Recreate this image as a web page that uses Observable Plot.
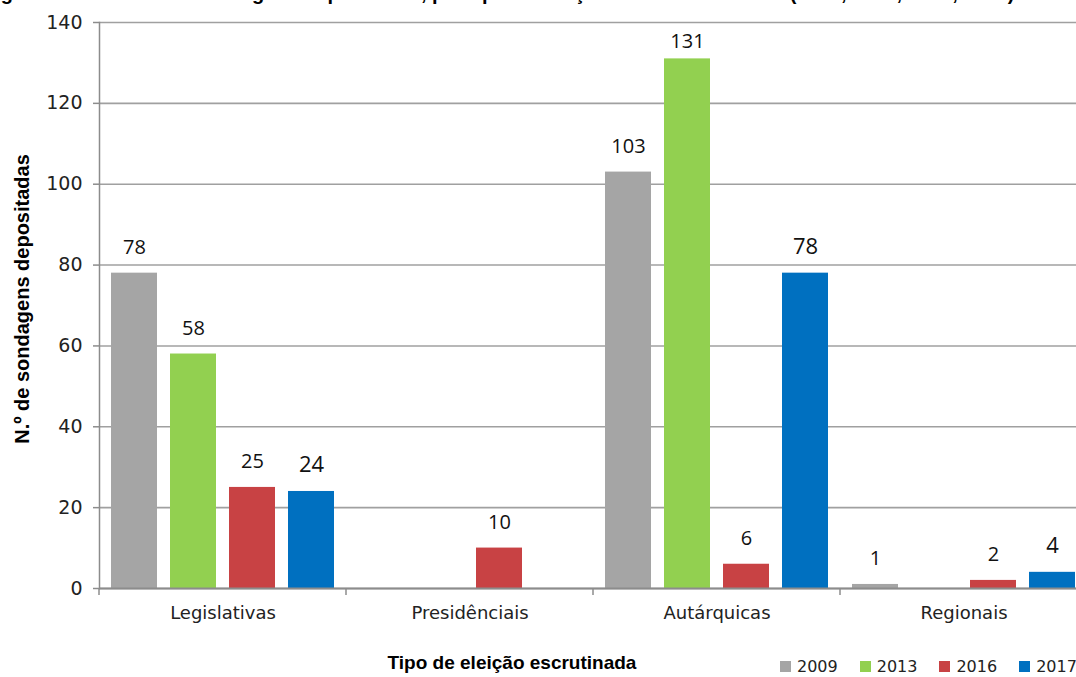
<!DOCTYPE html>
<html><head><meta charset="utf-8">
<script src="https://cdn.jsdelivr.net/npm/d3@7"></script>
<script src="https://cdn.jsdelivr.net/npm/@observablehq/plot@0.6"></script>
<style>
html,body{margin:0;padding:0;background:#fff;overflow:hidden;}
#wrap{position:relative;width:1076px;height:677px;overflow:hidden;background:#fff;}
#chart{position:absolute;left:0;top:0;width:1090px;}
#chart svg{max-width:none !important;}
#title{position:absolute;left:-17px;top:-17px;white-space:nowrap;font:bold 20px/20px "Liberation Sans",Arial,sans-serif;color:#000;}
#ytitle{position:absolute;left:22px;top:299px;white-space:nowrap;transform:translate(-50%,-50%) rotate(-90deg);font:bold 20px "Liberation Sans",Arial,sans-serif;color:#000;}
#xtitle{position:absolute;left:512px;top:653px;transform:translateX(-50%);white-space:nowrap;font:bold 19px/20px "Liberation Sans",Arial,sans-serif;color:#000;}
#legend{position:absolute;left:780px;top:656px;width:420px;}
.lg-swatches{font:16px "DejaVu Sans",sans-serif !important;color:#222;min-height:20px !important;margin:0 !important;flex-wrap:nowrap !important;white-space:nowrap;}
.lg-swatch{margin-right:22px !important;}
.lg-swatch svg{margin-right:6px !important;}
</style></head>
<body><div id="wrap"><div id="chart"></div><div id="title"></div><div id="ytitle"></div><div id="xtitle"></div><div id="legend"></div></div>
<script>
const titleText = "Figura 1 – Número de sondagens depositadas, por tipo de eleição escrutinada e ano (2009, 2013, 2016, 2017)";
const yTitle = "N.º de sondagens depositadas";
const xTitle = "Tipo de eleição escrutinada";
const categories = ["Legislativas", "Presidênciais", "Autárquicas", "Regionais"];
const years = ["2009", "2013", "2016", "2017"];
const values2009 = [78, null, 103, 1];
const values2013 = [58, null, 131, null];
const values2016 = [25, 10, 6, 2];
const values2017 = [24, null, 78, 4];
const yTicks = [0, 20, 40, 60, 80, 100, 120, 140];
const colors = ["#A5A5A5", "#92D050", "#C84244", "#0070C0"];

const series = [values2009, values2013, values2016, values2017];
const data = [];
categories.forEach((c, i) => years.forEach((y, j) => {
  const v = series[j][i];
  if (v != null) data.push({category: c, year: y, value: v});
}));
// labels that would rise too close to the top of the frame are clamped inside it (as in the source chart)
const yMax = yTicks[yTicks.length - 1];
const labelsFree = data.filter(d => d.value <= yMax - 15);
const labelsClamped = data.filter(d => d.value > yMax - 15);

function boundaryTicks(index, scales, values, dimensions) {
  const y0 = scales.y(0);
  const x0 = dimensions.marginLeft;
  const g = d3.create("svg:g");
  g.append("line").attr("x1", x0).attr("x2", x0).attr("y1", y0).attr("y2", y0 + 7)
    .attr("stroke", "#8c8c8c").attr("stroke-width", 1.5);
  return g.node();
}

const labelFont = d => d.year === "2017" ? 22 : 20;

const chart = Plot.plot({
  width: 1089, height: 677,
  marginLeft: 97, marginRight: 1, marginTop: 22, marginBottom: 89,
  style: {fontFamily: "DejaVu Sans, sans-serif", background: "#fff", overflow: "visible", maxWidth: "none"},
  fx: {domain: categories, padding: 0, label: null},
  x: {domain: years, paddingInner: 0.22, paddingOuter: 0.2, axis: null},
  y: {domain: [0, yMax], label: null},
  color: {domain: years, range: colors},
  marks: [
    Plot.gridY(yTicks, {stroke: "#a0a0a0", strokeOpacity: 1, strokeWidth: 1.6}),
    Plot.barY(data, {fx: "category", x: "year", y: "value", fill: "year"}),
    Plot.ruleY([0], {stroke: "#8c8c8c", strokeWidth: 2}),
    Plot.frame({anchor: "left", facetAnchor: "left", stroke: "#8c8c8c", strokeWidth: 1.5}),
    boundaryTicks,
    Plot.axisY(yTicks, {tickSize: 6, tickPadding: 11, fontSize: 19, stroke: "#8c8c8c", strokeWidth: 1.5, fill: "#222", label: null}),
    Plot.axisFx({anchor: "bottom", tickSize: 0, tickPadding: 18, fontSize: 18, fill: "#222", label: null}),
    Plot.text(labelsFree, {fx: "category", x: "year", y: "value", text: d => String(d.value), lineAnchor: "bottom", dy: -19,
      fontSize: labelFont, fontFamily: "Open Sans, sans-serif", fill: "#111"}),
    Plot.text(labelsClamped, {fx: "category", x: "year", text: d => String(d.value), frameAnchor: "top", lineAnchor: "top", dy: 11,
      fontSize: labelFont, fontFamily: "Open Sans, sans-serif", fill: "#111"})
  ]
});
document.getElementById("chart").appendChild(chart);
document.getElementById("title").textContent = titleText;
document.getElementById("ytitle").textContent = yTitle;
document.getElementById("xtitle").textContent = xTitle;
const lg = Plot.legend({color: {domain: years, range: colors}, legend: "swatches", swatchSize: 11, className: "lg"});
document.getElementById("legend").appendChild(lg);
</script>
</body></html>
